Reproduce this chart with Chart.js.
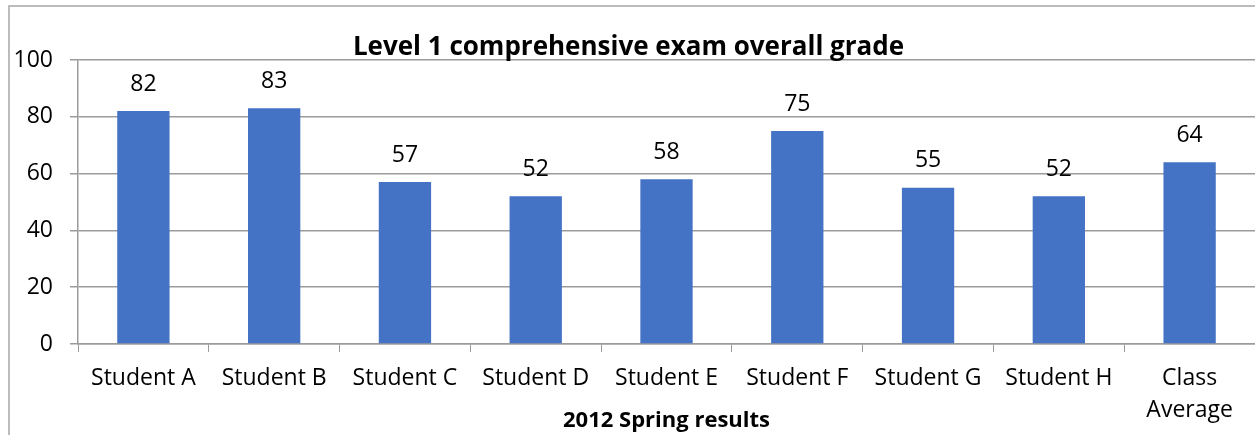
<!DOCTYPE html>
<html lang="en">
<head>
    <meta charset="UTF-8">
    <title>Level 1 comprehensive exam overall grade</title>
    <script src="https://cdn.jsdelivr.net/npm/chart.js@4/dist/chart.umd.min.js"></script>
    <style>
        html, body {
            margin: 0;
            padding: 0;
            background: #ffffff;
        }
        .chart-container {
            width: 1255px;
            height: 435px;
            position: relative;
        }
    </style>
</head>
<body>

<div class="chart-container">
    <canvas id="gradeChart"></canvas>
</div>

<script>
    // data
    var students = ['Student A', 'Student B', 'Student C', 'Student D', 'Student E',
                    'Student F', 'Student G', 'Student H', ['Class', 'Average']];
    var grades = [82, 83, 57, 52, 58, 75, 55, 52, 64];
    var gradeTicks = [0, 20, 40, 60, 80, 100];

    var labelFont = "'Open Sans', sans-serif";
    var gridGray = '#9b9b9b';

    // frame around the whole chart, like the spreadsheet export
    var frame = {
        id: 'frame',
        beforeDraw: function(chart) {
            var ctx = chart.ctx;
            ctx.save();
            ctx.strokeStyle = '#a6a6a6';
            ctx.lineWidth = 1.5;
            ctx.beginPath();
            ctx.moveTo(9, chart.height + 2);
            ctx.lineTo(9, 6);
            ctx.lineTo(chart.width + 2, 6);
            ctx.stroke();
            ctx.restore();
        }
    };

    // value written above each bar
    var valueLabels = {
        id: 'valueLabels',
        afterDatasetsDraw: function(chart) {
            var ctx = chart.ctx;
            var meta = chart.getDatasetMeta(0);
            ctx.save();
            ctx.font = "23px " + labelFont;
            ctx.fillStyle = '#000';
            ctx.textAlign = 'center';
            ctx.textBaseline = 'middle';
            meta.data.forEach(function(bar, i) {
                ctx.fillText(Math.round(grades[i]), bar.x, bar.y - 27);
            });
            ctx.restore();
        }
    };

    var ctx = document.getElementById('gradeChart').getContext('2d');
    var gradeChart = new Chart(ctx, {
        type: 'bar',
        data: {
            labels: students,
            datasets: [{
                data: grades,
                backgroundColor: '#4472c4',
                borderWidth: 0,
                barPercentage: 0.4,
                categoryPercentage: 1
            }]
        },
        options: {
            responsive: true,
            maintainAspectRatio: false,
            animation: false,
            layout: {
                padding: { left: 0, right: -2, top: 0, bottom: 0 }
            },
            plugins: {
                legend: { display: false },
                tooltip: { enabled: false },
                title: {
                    display: true,
                    text: 'Level 1 comprehensive exam overall grade',
                    color: '#000',
                    font: { family: labelFont, size: 26, weight: 'bold', lineHeight: 1 },
                    padding: { top: 35, bottom: -1 }
                }
            },
            scales: {
                x: {
                    afterFit: function(scale) { scale.height = 91; },
                    grid: {
                        drawOnChartArea: false,
                        drawTicks: true,
                        tickLength: 8,
                        color: gridGray
                    },
                    border: { color: gridGray, width: 1.5 },
                    ticks: {
                        color: '#000',
                        padding: 10,
                        maxRotation: 0,
                        autoSkip: false,
                        font: { family: labelFont, size: 23, lineHeight: 1.4 }
                    },
                    title: {
                        display: true,
                        text: '2012 Spring results',
                        color: '#000',
                        font: { family: labelFont, size: 22, weight: 'bold', lineHeight: 1.2 },
                        padding: { top: 0, bottom: 1 }
                    }
                },
                y: {
                    min: 0,
                    max: 100,
                    afterFit: function(scale) { scale.width = 78; },
                    afterBuildTicks: function(scale) {
                        scale.ticks = gradeTicks.map(function(v) { return { value: v }; });
                    },
                    grid: {
                        color: gridGray,
                        lineWidth: 1.5,
                        drawTicks: true,
                        tickLength: 8
                    },
                    border: { color: gridGray, width: 1.5 },
                    ticks: {
                        color: '#000',
                        padding: 17,
                        font: { family: labelFont, size: 23 }
                    }
                }
            }
        },
        plugins: [frame, valueLabels]
    });
</script>

</body>
</html>
